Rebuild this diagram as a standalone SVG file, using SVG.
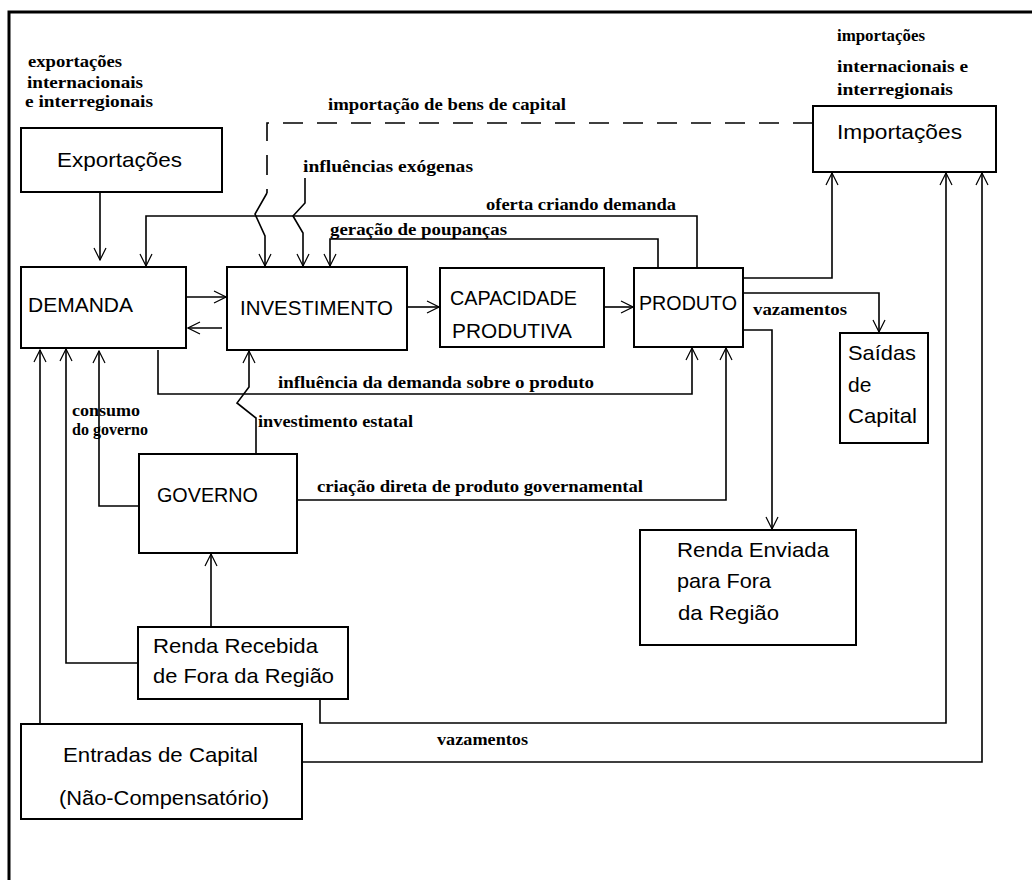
<svg xmlns="http://www.w3.org/2000/svg" width="1032" height="880" viewBox="0 0 1032 880">
<style>
.box{fill:#fff;stroke:#000;stroke-width:2}
.bl{font-family:"Liberation Sans",Arial,sans-serif;font-size:21px;fill:#000}
.sl{font-family:"Liberation Serif","Times New Roman",serif;font-weight:bold;font-size:16px;fill:#000}
.c{fill:none;stroke:#000;stroke-width:1.6}
.d{fill:none;stroke:#000;stroke-width:1.6;stroke-dasharray:20 14}
</style>
<defs>
<marker id="a" markerUnits="userSpaceOnUse" markerWidth="14" markerHeight="14" viewBox="-1 -7 14 14" refX="12" refY="0" orient="auto">
<path d="M0,-6 L12,0 L0,6" fill="none" stroke="#000" stroke-width="1.2"/>
</marker>
</defs>
<rect width="1032" height="880" fill="#fff"/>
<path d="M9,880 V12 H1032" fill="none" stroke="#000" stroke-width="3"/>

<g id="labels">
<text class="sl" x="28" y="67" textLength="94" lengthAdjust="spacingAndGlyphs">exportações</text>
<text class="sl" x="27" y="88" textLength="116" lengthAdjust="spacingAndGlyphs">internacionais</text>
<text class="sl" x="25" y="107" textLength="128" lengthAdjust="spacingAndGlyphs">e interregionais</text>
<text class="sl" x="837" y="41" textLength="88" lengthAdjust="spacingAndGlyphs">importações</text>
<text class="sl" x="837" y="72" textLength="131" lengthAdjust="spacingAndGlyphs">internacionais e</text>
<text class="sl" x="837" y="95" textLength="116" lengthAdjust="spacingAndGlyphs">interregionais</text>
<text class="sl" x="328" y="110" textLength="238" lengthAdjust="spacingAndGlyphs">importação de bens de capital</text>
<text class="sl" x="303" y="172" textLength="170" lengthAdjust="spacingAndGlyphs">influências exógenas</text>
<text class="sl" x="486" y="210" textLength="190" lengthAdjust="spacingAndGlyphs">oferta criando demanda</text>
<text class="sl" x="330" y="235" textLength="177" lengthAdjust="spacingAndGlyphs">geração de poupanças</text>
<text class="sl" x="753" y="315" textLength="94" lengthAdjust="spacingAndGlyphs">vazamentos</text>
<text class="sl" x="278" y="388" textLength="316" lengthAdjust="spacingAndGlyphs">influência da demanda sobre o produto</text>
<text class="sl" x="258" y="427" textLength="155" lengthAdjust="spacingAndGlyphs">investimento estatal</text>
<text class="sl" x="72" y="416" textLength="68" lengthAdjust="spacingAndGlyphs">consumo</text>
<text class="sl" x="72" y="435" textLength="76" lengthAdjust="spacingAndGlyphs">do governo</text>
<text class="sl" x="317" y="492" textLength="326" lengthAdjust="spacingAndGlyphs">criação direta de produto governamental</text>
<text class="sl" x="437" y="745" textLength="91" lengthAdjust="spacingAndGlyphs">vazamentos</text>
</g>

<g id="connectors">
<path class="d" d="M813,123 H267 V193"/>
<path class="c" d="M267,193 L255,214 L265,236 V266" marker-end="url(#a)"/>
<path class="c" d="M305,178 V203 L293,216 L303,233 V266" marker-end="url(#a)"/>
<path class="c" d="M658,267 V239 H330 V266" marker-end="url(#a)"/>
<path class="c" d="M697,267 V216 H146 V266" marker-end="url(#a)"/>
<path class="c" d="M100,193 V260" marker-end="url(#a)"/>
<path class="c" d="M187,297 H226" marker-end="url(#a)"/>
<path class="c" d="M222,328 H188" marker-end="url(#a)"/>
<path class="c" d="M408,307 H439" marker-end="url(#a)"/>
<path class="c" d="M605,307 H633" marker-end="url(#a)"/>
<path class="c" d="M744,278 H832 V173" marker-end="url(#a)"/>
<path class="c" d="M744,293 H879 V332" marker-end="url(#a)"/>
<path class="c" d="M744,330 H772 V529" marker-end="url(#a)"/>
<path class="c" d="M158,350 V394 H692 V348" marker-end="url(#a)"/>
<path class="c" d="M298,500 H726 V348" marker-end="url(#a)"/>
<path class="c" d="M256,454 V418 L237,403 L249,387 V351" marker-end="url(#a)"/>
<path class="c" d="M139,506 H99 V351" marker-end="url(#a)"/>
<path class="c" d="M138,663 H66 V349" marker-end="url(#a)"/>
<path class="c" d="M211,627 V554" marker-end="url(#a)"/>
<path class="c" d="M320,700 V723 H946 V173" marker-end="url(#a)"/>
<path class="c" d="M40,724 V350" marker-end="url(#a)"/>
<path class="c" d="M303,762 H982 V173" marker-end="url(#a)"/>
</g>

<g id="exportacoes">
<rect class="box" x="21" y="128" width="201" height="64"/>
<text class="bl" x="57" y="167" textLength="125" lengthAdjust="spacingAndGlyphs">Exportações</text>
</g>
<g id="importacoes">
<rect class="box" x="813" y="106" width="183" height="66"/>
<text class="bl" x="837" y="139" textLength="125" lengthAdjust="spacingAndGlyphs">Importações</text>
</g>
<g id="demanda">
<rect class="box" x="21" y="267" width="165" height="81"/>
<text class="bl" x="28" y="312" textLength="105" lengthAdjust="spacingAndGlyphs">DEMANDA</text>
</g>
<g id="investimento">
<rect class="box" x="227" y="267" width="180" height="83"/>
<text class="bl" x="240" y="315" textLength="153" lengthAdjust="spacingAndGlyphs">INVESTIMENTO</text>
</g>
<g id="capacidade">
<rect class="box" x="440" y="268" width="164" height="79"/>
<text class="bl" x="450" y="305" textLength="127" lengthAdjust="spacingAndGlyphs">CAPACIDADE</text>
<text class="bl" x="452" y="338" textLength="120" lengthAdjust="spacingAndGlyphs">PRODUTIVA</text>
</g>
<g id="produto">
<rect class="box" x="634" y="268" width="109" height="79"/>
<text class="bl" x="639" y="310" textLength="98" lengthAdjust="spacingAndGlyphs">PRODUTO</text>
</g>
<g id="saidas">
<rect class="box" x="840" y="333" width="88" height="110"/>
<text class="bl" x="848" y="360" textLength="68" lengthAdjust="spacingAndGlyphs">Saídas</text>
<text class="bl" x="848" y="392">de</text>
<text class="bl" x="848" y="423" textLength="69" lengthAdjust="spacingAndGlyphs">Capital</text>
</g>
<g id="governo">
<rect class="box" x="139" y="454" width="158" height="99"/>
<text class="bl" x="157" y="502" textLength="101" lengthAdjust="spacingAndGlyphs">GOVERNO</text>
</g>
<g id="renda-enviada">
<rect class="box" x="640" y="530" width="216" height="115"/>
<text class="bl" x="677" y="557" textLength="152" lengthAdjust="spacingAndGlyphs">Renda Enviada</text>
<text class="bl" x="677" y="588" textLength="94" lengthAdjust="spacingAndGlyphs">para Fora</text>
<text class="bl" x="678" y="620" textLength="101" lengthAdjust="spacingAndGlyphs">da Região</text>
</g>
<g id="renda-recebida">
<rect class="box" x="138" y="627" width="210" height="72"/>
<text class="bl" x="153" y="653" textLength="165" lengthAdjust="spacingAndGlyphs">Renda Recebida</text>
<text class="bl" x="153" y="683" textLength="181" lengthAdjust="spacingAndGlyphs">de Fora da Região</text>
</g>
<g id="entradas">
<rect class="box" x="21" y="724" width="281" height="95"/>
<text class="bl" x="63" y="762" textLength="195" lengthAdjust="spacingAndGlyphs">Entradas de Capital</text>
<text class="bl" x="59" y="805" textLength="210" lengthAdjust="spacingAndGlyphs">(Não-Compensatório)</text>
</g>
</svg>
